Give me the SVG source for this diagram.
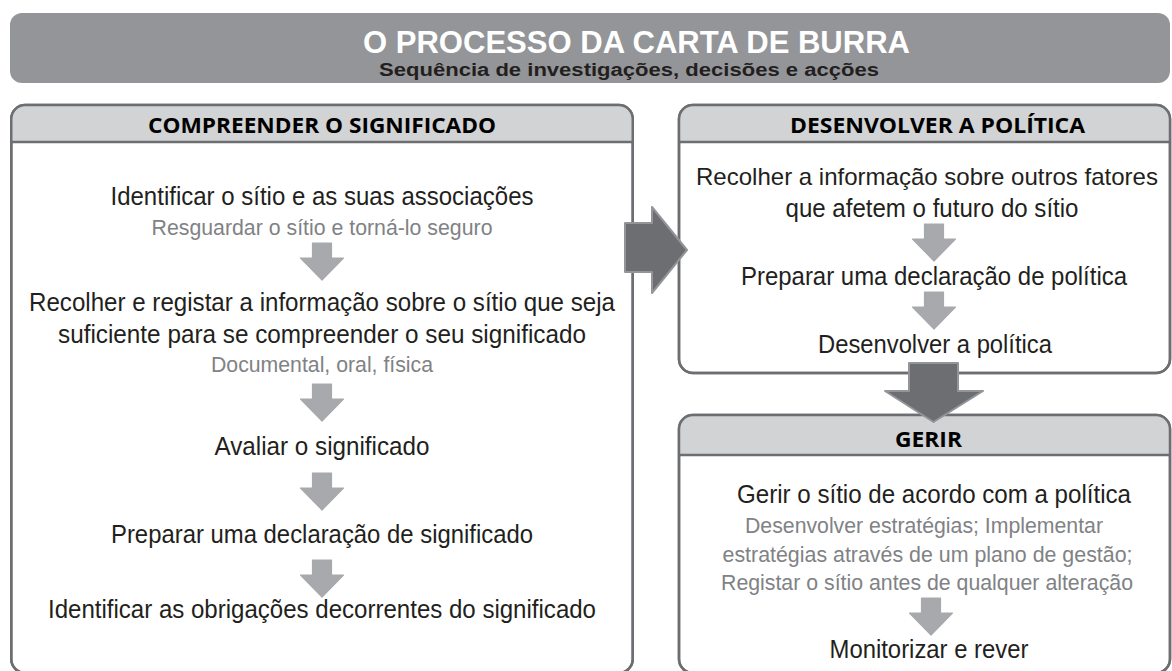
<svg xmlns="http://www.w3.org/2000/svg" xmlns:xlink="http://www.w3.org/1999/xlink" width="1172" height="671" viewBox="0 0 1172 671">
<style>
.box{fill:#ffffff;stroke:#6d6e71;stroke-width:2.5}
.outline{fill:none;stroke:#6d6e71;stroke-width:2.5}
.hdr{fill:#d1d3d4}
.hline{stroke:#6d6e71;stroke-width:2.5}
.ht{font-family:"Open Sans","Noto Sans","DejaVu Sans",sans-serif;font-weight:700;font-size:22px;fill:#000;text-anchor:middle}
.t{font-family:"Liberation Sans Narrow","Liberation Sans",Arial,sans-serif;font-size:25px;fill:#231f20;text-anchor:middle}
.g{font-family:"Liberation Sans Narrow","Liberation Sans",Arial,sans-serif;font-size:21.5px;fill:#808285;text-anchor:middle}
.sa{fill:#a7a9ac;stroke:#a7a9ac;stroke-width:1.2;stroke-linejoin:round}
.ba{fill:#6d6e71;stroke:#939598;stroke-width:2;stroke-linejoin:round}
</style>
<defs>
<path id="sarrow" d="M-9.5 0 H9.5 V15 H21.5 L0 37 L-21.5 15 H-9.5 Z"/>
</defs>
<g id="banner">
<rect x="10" y="13" width="1160" height="70" rx="12" fill="#939598"/>
<text x="636.5" y="53" textLength="547" lengthAdjust="spacingAndGlyphs" text-anchor="middle" font-family="'Liberation Sans Narrow','Liberation Sans',Arial,sans-serif" font-weight="700" font-size="31" fill="#ffffff">O PROCESSO DA CARTA DE BURRA</text>
<text x="629" y="76" textLength="500" lengthAdjust="spacingAndGlyphs" text-anchor="middle" font-family="'Liberation Sans Narrow','Liberation Sans',Arial,sans-serif" font-weight="700" font-size="18" fill="#231f20">Sequência de investigações, decisões e acções</text>
</g>
<g id="compreender">
<rect class="box" x="11.25" y="105" width="621.5" height="568" rx="14"/>
<path class="hdr" d="M11.25 142 V119 Q11.25 105 25.25 105 H618.75 Q632.75 105 632.75 119 V142 Z"/>
<line class="hline" x1="11.25" y1="142" x2="632.75" y2="142"/>
<rect class="outline" x="11.25" y="105" width="621.5" height="568" rx="14"/>
<text class="ht" x="322" y="133" textLength="348" lengthAdjust="spacingAndGlyphs">COMPREENDER O SIGNIFICADO</text>
<text class="t" x="322" y="205" textLength="423" lengthAdjust="spacingAndGlyphs">Identificar o sítio e as suas associações</text>
<text class="g" x="322" y="235" textLength="341" lengthAdjust="spacingAndGlyphs">Resguardar o sítio e torná-lo seguro</text>
<use xlink:href="#sarrow" class="sa" x="322" y="243"/>
<text class="t" x="322" y="311" textLength="586" lengthAdjust="spacingAndGlyphs">Recolher e registar a informação sobre o sítio que seja</text>
<text class="t" x="322" y="343" textLength="528" lengthAdjust="spacingAndGlyphs">suficiente para se compreender o seu significado</text>
<text class="g" x="322" y="372" textLength="222" lengthAdjust="spacingAndGlyphs">Documental, oral, física</text>
<use xlink:href="#sarrow" class="sa" x="322" y="384"/>
<text class="t" x="322" y="455" textLength="215" lengthAdjust="spacingAndGlyphs">Avaliar o significado</text>
<use xlink:href="#sarrow" class="sa" x="322" y="473"/>
<text class="t" x="322" y="543" textLength="422" lengthAdjust="spacingAndGlyphs">Preparar uma declaração de significado</text>
<use xlink:href="#sarrow" class="sa" x="322" y="560"/>
<text class="t" x="322" y="618" textLength="548" lengthAdjust="spacingAndGlyphs">Identificar as obrigações decorrentes do significado</text>
</g>
<g id="desenvolver">
<rect class="box" x="679" y="105" width="491" height="268" rx="14"/>
<path class="hdr" d="M679 142 V119 Q679 105 693 105 H1156 Q1170 105 1170 119 V142 Z"/>
<line class="hline" x1="679" y1="142" x2="1170" y2="142"/>
<rect class="outline" x="679" y="105" width="491" height="268" rx="14"/>
<text class="ht" x="937.5" y="133" textLength="295" lengthAdjust="spacingAndGlyphs">DESENVOLVER A POLÍTICA</text>
<text class="t" x="927" y="185" style="font-size:24px" textLength="462" lengthAdjust="spacingAndGlyphs">Recolher a informação sobre outros fatores</text>
<text class="t" x="932" y="217" textLength="293" lengthAdjust="spacingAndGlyphs">que afetem o futuro do sítio</text>
<use xlink:href="#sarrow" class="sa" x="934" y="224"/>
<text class="t" x="934" y="285" textLength="386" lengthAdjust="spacingAndGlyphs">Preparar uma declaração de política</text>
<use xlink:href="#sarrow" class="sa" x="934" y="292"/>
<text class="t" x="935" y="353" textLength="234" lengthAdjust="spacingAndGlyphs">Desenvolver a política</text>
</g>
<g id="gerir">
<rect class="box" x="679" y="415" width="491" height="258" rx="14"/>
<path class="hdr" d="M679 455 V429 Q679 415 693 415 H1156 Q1170 415 1170 429 V455 Z"/>
<line class="hline" x1="679" y1="455" x2="1170" y2="455"/>
<rect class="outline" x="679" y="415" width="491" height="258" rx="14"/>
<text class="ht" x="928.5" y="447" textLength="67" lengthAdjust="spacingAndGlyphs">GERIR</text>
<text class="t" x="934" y="503" textLength="394" lengthAdjust="spacingAndGlyphs">Gerir o sítio de acordo com a política</text>
<text class="g" x="924" y="533" textLength="358" lengthAdjust="spacingAndGlyphs">Desenvolver estratégias; Implementar</text>
<text class="g" x="927.5" y="562" textLength="410" lengthAdjust="spacingAndGlyphs">estratégias através de um plano de gestão;</text>
<text class="g" x="927" y="590" textLength="412" lengthAdjust="spacingAndGlyphs">Registar o sítio antes de qualquer alteração</text>
<use xlink:href="#sarrow" class="sa" x="931" y="598"/>
<text class="t" x="929" y="658" textLength="199" lengthAdjust="spacingAndGlyphs">Monitorizar e rever</text>
</g>
<g id="connectors">
<path class="ba" d="M625 223 H652 V207 L687 250 L652 293 V272 H625 Z"/>
<path class="ba" d="M909 363 H958 V391 H983 L933.5 422 L885 391 H909 Z"/>
</g>
</svg>
